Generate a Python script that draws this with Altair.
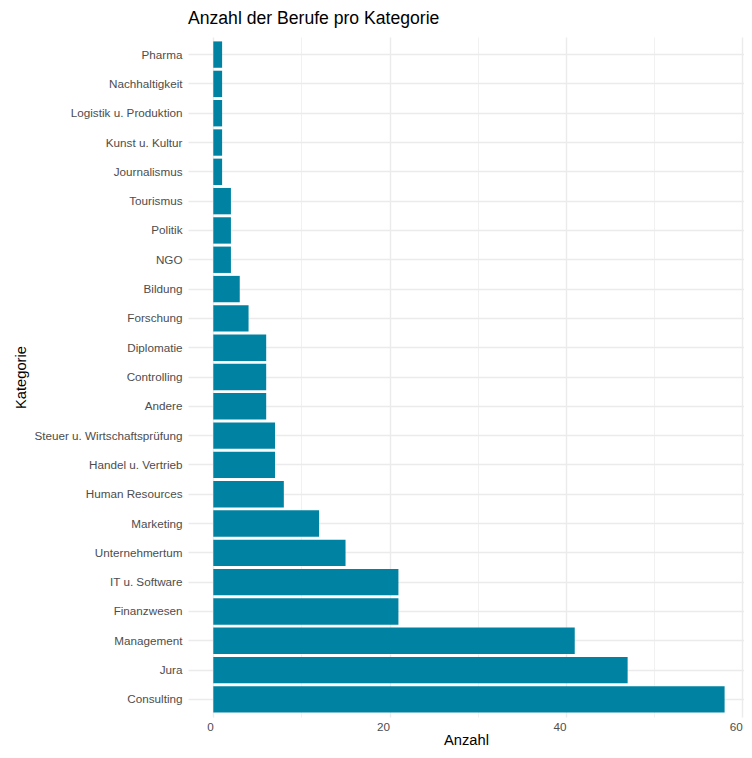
import altair as alt
import pandas as pd

categories = [
    "Pharma", "Nachhaltigkeit", "Logistik u. Produktion", "Kunst u. Kultur",
    "Journalismus", "Tourismus", "Politik", "NGO", "Bildung", "Forschung",
    "Diplomatie", "Controlling", "Andere", "Steuer u. Wirtschaftsprüfung",
    "Handel u. Vertrieb", "Human Resources", "Marketing", "Unternehmertum",
    "IT u. Software", "Finanzwesen", "Management", "Jura", "Consulting",
]
counts = [1, 1, 1, 1, 1, 2, 2, 2, 3, 4, 6, 6, 6, 7, 7, 8, 12, 15, 21, 21, 41, 47, 58]
x_ticks = [0, 10, 20, 30, 40, 50, 60]

df = pd.DataFrame({"Kategorie": categories, "Anzahl": counts})

FONT = "Liberation Sans"

chart = (
    alt.Chart(df)
    .mark_bar(color="#0083A2")
    .encode(
        x=alt.X(
            "Anzahl:Q",
            scale=alt.Scale(domain=[-2.87, 60.2], nice=False, zero=False),
            axis=alt.Axis(
                title="Anzahl",
                values=x_ticks,
                labelExpr="datum.value % 20 == 0 ? datum.label : ''",
                gridWidth={"condition": {"test": "datum.value % 20 == 0", "value": 1.4}, "value": 0.7},
                labelFlush=False,
                labelOverlap=False,
                labelAlign="right",
            ),
        ),
        y=alt.Y(
            "Kategorie:N",
            sort=categories,
            scale=alt.Scale(paddingInner=0.1, paddingOuter=0.15),
            axis=alt.Axis(title="Kategorie", bandPosition=0.5, gridWidth=1.4, labelPadding=6),
        ),
    )
    .properties(
        width=556,
        height=680,
        autosize=alt.AutoSizeParams(type="none"),
        padding={"left": 180, "top": 29, "right": 0, "bottom": 31},
        title=alt.TitleParams(
            "Anzahl der Berufe pro Kategorie",
            anchor="start",
            frame="group",
            fontSize=17.6,
            fontWeight="normal",
            font=FONT,
            color="black",
            offset=9,
        ),
    )
    .configure_view(stroke=None)
    .configure_axis(
        grid=True,
        gridColor="#EBEBEB",
        domain=False,
        ticks=False,
        labelFont=FONT,
        labelFontSize=11.7,
        labelColor="#4D4D4D",
        titleFont=FONT,
        titleFontSize=14.7,
        titleFontWeight="normal",
        titleColor="black",
    )
    .configure_axisX(labelPadding=4, titlePadding=0)
    .configure_axisY(titlePadding=5)
)

chart.save("out.html", embed_options={"renderer": "svg", "actions": False})
